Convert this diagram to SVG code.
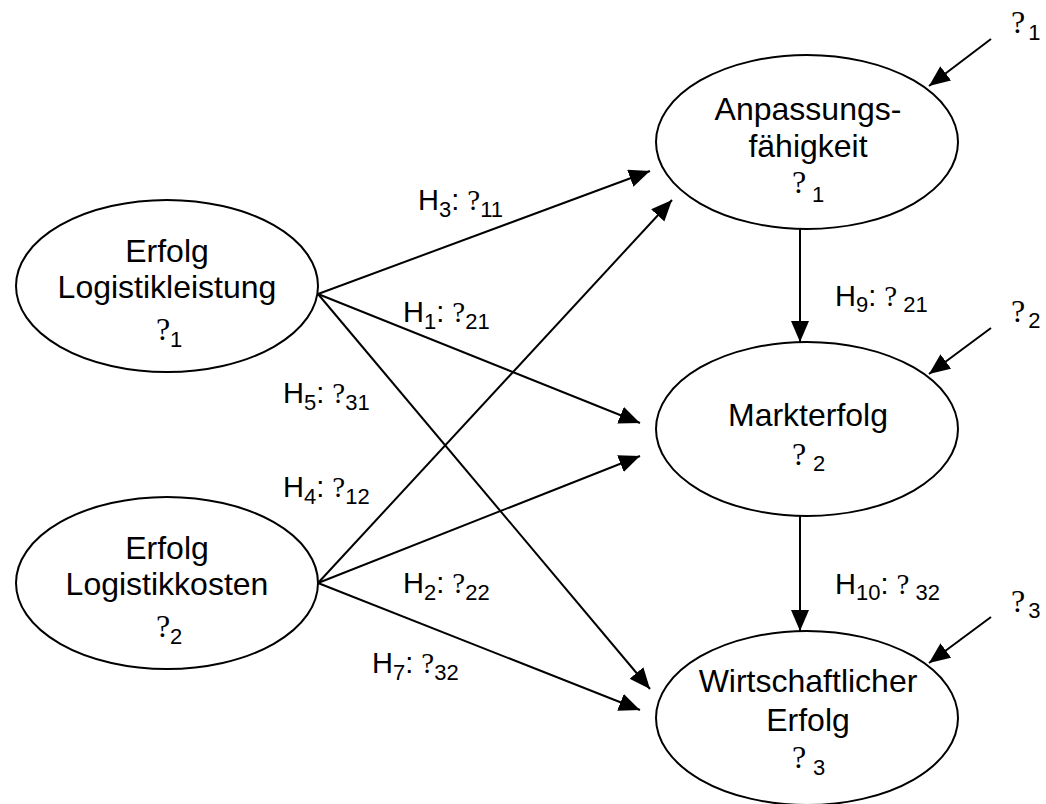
<svg xmlns="http://www.w3.org/2000/svg" width="1046" height="804" viewBox="0 0 1046 804">
<style>
  .node ellipse { fill: #fff; stroke: #000; stroke-width: 2; }
  text { font-family: "Liberation Sans", Arial, sans-serif; fill: #000; }
  .t { font-size: 32px; }
  .c { text-anchor: middle; }
  .q { font-family: "Liberation Serif", "Times New Roman", serif; }
  .s { font-size: 22px; }
  .lbl { font-size: 29px; }
  .edges line { stroke: #000; stroke-width: 2; fill: none; }
</style>
<defs>
  <marker id="ah" markerUnits="userSpaceOnUse" markerWidth="22" markerHeight="20" refX="21" refY="9" orient="auto">
    <path d="M0,0 L21,9 L0,18 Z" fill="#000"/>
  </marker>
</defs>
<rect width="1046" height="804" fill="#fff"/>

<g id="edges" class="edges">
  <line x1="318" y1="294" x2="650" y2="171" marker-end="url(#ah)"/>
  <line x1="318" y1="294" x2="640" y2="423" marker-end="url(#ah)"/>
  <line x1="318" y1="294" x2="650" y2="689" marker-end="url(#ah)"/>
  <line x1="318" y1="583" x2="672" y2="200" marker-end="url(#ah)"/>
  <line x1="318" y1="583" x2="640" y2="456" marker-end="url(#ah)"/>
  <line x1="318" y1="583" x2="640" y2="710" marker-end="url(#ah)"/>
  <line x1="800" y1="229" x2="800" y2="342" marker-end="url(#ah)"/>
  <line x1="800" y1="516" x2="800" y2="631" marker-end="url(#ah)"/>
  <line x1="991" y1="39" x2="929" y2="86" marker-end="url(#ah)"/>
  <line x1="991" y1="328" x2="929" y2="374" marker-end="url(#ah)"/>
  <line x1="991" y1="617" x2="929" y2="663" marker-end="url(#ah)"/>
</g>

<g id="labels" class="lbl">
  <text x="418" y="210">H<tspan class="s" dy="7">3</tspan><tspan dy="-7">: </tspan><tspan class="q">?</tspan><tspan class="s" dy="7">11</tspan></text>
  <text x="403" y="322">H<tspan class="s" dy="7">1</tspan><tspan dy="-7">: </tspan><tspan class="q">?</tspan><tspan class="s" dy="7">21</tspan></text>
  <text x="283" y="403">H<tspan class="s" dy="7">5</tspan><tspan dy="-7">: </tspan><tspan class="q">?</tspan><tspan class="s" dy="7">31</tspan></text>
  <text x="283" y="497">H<tspan class="s" dy="7">4</tspan><tspan dy="-7">: </tspan><tspan class="q">?</tspan><tspan class="s" dy="7">12</tspan></text>
  <text x="403" y="593">H<tspan class="s" dy="7">2</tspan><tspan dy="-7">: </tspan><tspan class="q">?</tspan><tspan class="s" dy="7">22</tspan></text>
  <text x="372" y="673">H<tspan class="s" dy="7">7</tspan><tspan dy="-7">: </tspan><tspan class="q">?</tspan><tspan class="s" dy="7">32</tspan></text>
  <text x="835" y="306">H<tspan class="s" dy="6">9</tspan><tspan dy="-6">: </tspan><tspan class="q">?</tspan><tspan class="s" dx="6" dy="6">21</tspan></text>
  <text x="835" y="594">H<tspan class="s" dy="6">10</tspan><tspan dy="-6">: </tspan><tspan class="q">?</tspan><tspan class="s" dx="6" dy="6">32</tspan></text>
  <text class="t" x="1011" y="33"><tspan class="q">?</tspan><tspan class="s" dx="3" dy="7">1</tspan></text>
  <text class="t" x="1011" y="322"><tspan class="q">?</tspan><tspan class="s" dx="3" dy="6">2</tspan></text>
  <text class="t" x="1011" y="612"><tspan class="q">?</tspan><tspan class="s" dx="3" dy="6">3</tspan></text>
</g>

<g id="node-leistung" class="node">
  <ellipse cx="167" cy="286" rx="151" ry="86"/>
  <text class="t c" x="167" y="262">Erfolg</text>
  <text class="t c" x="167" y="298">Logistikleistung</text>
  <text class="t" x="156" y="340"><tspan class="q">?</tspan><tspan class="s" x="170" y="347">1</tspan></text>
</g>

<g id="node-kosten" class="node">
  <ellipse cx="167" cy="583" rx="151" ry="86"/>
  <text class="t c" x="167" y="559">Erfolg</text>
  <text class="t c" x="167" y="595">Logistikkosten</text>
  <text class="t" x="156" y="637"><tspan class="q">?</tspan><tspan class="s" x="170" y="644">2</tspan></text>
</g>

<g id="node-anpassung" class="node">
  <ellipse cx="807" cy="142" rx="151" ry="87"/>
  <text class="t c" x="808" y="120">Anpassungs-</text>
  <text class="t c" x="808" y="157">fähigkeit</text>
  <text class="t" x="792" y="193"><tspan class="q">?</tspan><tspan class="s" x="812" y="202">1</tspan></text>
</g>

<g id="node-markt" class="node">
  <ellipse cx="807" cy="429" rx="151" ry="87"/>
  <text class="t c" x="808" y="426">Markterfolg</text>
  <text class="t" x="792" y="465"><tspan class="q">?</tspan><tspan class="s" x="813" y="471">2</tspan></text>
</g>

<g id="node-wirtschaft" class="node">
  <ellipse cx="807" cy="718" rx="151" ry="87"/>
  <text class="t c" x="808" y="692">Wirtschaftlicher</text>
  <text class="t c" x="808" y="731">Erfolg</text>
  <text class="t" x="792" y="768"><tspan class="q">?</tspan><tspan class="s" x="813" y="775">3</tspan></text>
</g>
</svg>
